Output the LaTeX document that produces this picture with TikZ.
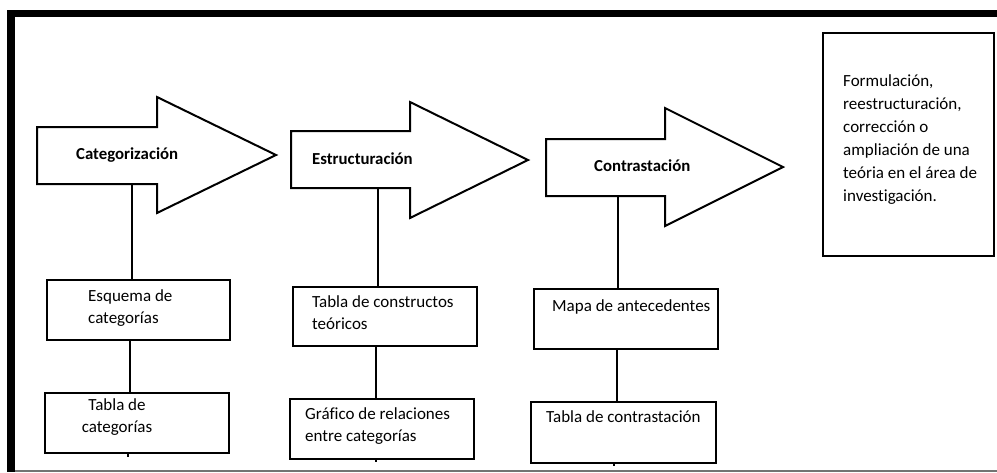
\documentclass[tikz,border=0pt]{standalone}
\usepackage{fontspec}
\setmainfont{Carlito}[Ligatures=NoCommon]
\begin{document}
\begin{tikzpicture}[x=1pt,y=-1pt,
  arrowshape/.style={draw=black, line width=2pt, fill=white, line join=miter},
  boxnode/.style={draw=black, line width=2pt, fill=white, inner sep=0pt, anchor=north west},
  conn/.style={draw=black, line width=2pt},
  boxtext/.style={inner sep=0pt, anchor=west, align=left, text=black, font=\fontsize{17}{22}\selectfont},
  steplabel/.style={inner sep=0pt, anchor=west, text=black, font=\fontsize{16.8}{20}\selectfont\bfseries}]
\useasboundingbox (0,0) rectangle (997,472);
% frame
\fill[black] (7,10) rectangle (997,17);
\fill[black] (7,10) rectangle (15,472);
\draw[black!55, line width=2pt] (15,470.5) -- (997,470.5);
% arrows
\draw[arrowshape] (37,127) -- (157,127) -- (157,97) -- (276,155) -- (157,213) -- (157,184) -- (37,184) -- cycle;
\draw[arrowshape] (291,131) -- (410,131) -- (410,102) -- (528,160) -- (410,218) -- (410,188) -- (291,188) -- cycle;
\draw[arrowshape] (546,139) -- (665,139) -- (665,108) -- (783,167) -- (665,226) -- (665,196) -- (546,196) -- cycle;
\node[steplabel] (l1) at (76,155) {Categorización};
\node[steplabel] (l2) at (312,159) {Estructuración};
\node[steplabel] (l3) at (594,166) {Contrastación};
\coordinate (a1) at (132,184);
\coordinate (a2) at (378,188);
\coordinate (a3) at (618,196);
% boxes
\node[boxnode, minimum width=183pt, minimum height=60pt] (b1) at (46,279) {};
\node[boxnode, minimum width=184pt, minimum height=60pt] (b2) at (44,392) {};
\node[boxnode, minimum width=184pt, minimum height=59pt] (b3) at (292,286) {};
\node[boxnode, minimum width=184pt, minimum height=60pt] (b4) at (289,398) {};
\node[boxnode, minimum width=184pt, minimum height=60pt] (b5) at (533,288) {};
\node[boxnode, minimum width=185pt, minimum height=61pt] (b6) at (530,401) {};
\node[boxnode, minimum width=171pt, minimum height=223pt] (r) at (822,32) {};
% texts
\node[boxtext] (t1) at (88,308) {Esquema de\\categorías};
\node[boxtext, align=center, anchor=center] (t2) at (117,417.5) {Tabla de\\categorías};
\node[boxtext] (t3) at (312,313) {Tabla de constructos\\teóricos};
\node[boxtext] (t4) at (305,426.5) {Gráfico de relaciones\\entre categorías};
\node[boxtext] (t5) at (552,307) {Mapa de antecedentes};
\node[boxtext] (t6) at (546,417) {Tabla de contrastación};
\node[boxtext, font=\fontsize{17}{23}\selectfont] (t7) at (843,139.5) {Formulación,\\reestructuración,\\corrección o\\ampliación de una\\teória en el área de\\investigación.};
% connectors
\draw[conn] (a1) -- (a1 |- b1.north);
\draw[conn] (b1.south -| 130,0) -- (b2.north -| 130,0);
\coordinate (s1) at (128,457);
\draw[conn] (s1 |- b2.south) -- (s1);
\draw[conn] (a2) -- (a2 |- b3.north);
\draw[conn] (b3.south -| 376,0) -- (b4.north -| 376,0);
\coordinate (s2) at (376,462);
\draw[conn] (s2 |- b4.south) -- (s2);
\draw[conn] (a3) -- (a3 |- b5.north);
\draw[conn] (b5.south -| 617,0) -- (b6.north -| 617,0);
\coordinate (s3) at (614,466);
\draw[conn] (s3 |- b6.south) -- (s3);
\end{tikzpicture}
\end{document}
